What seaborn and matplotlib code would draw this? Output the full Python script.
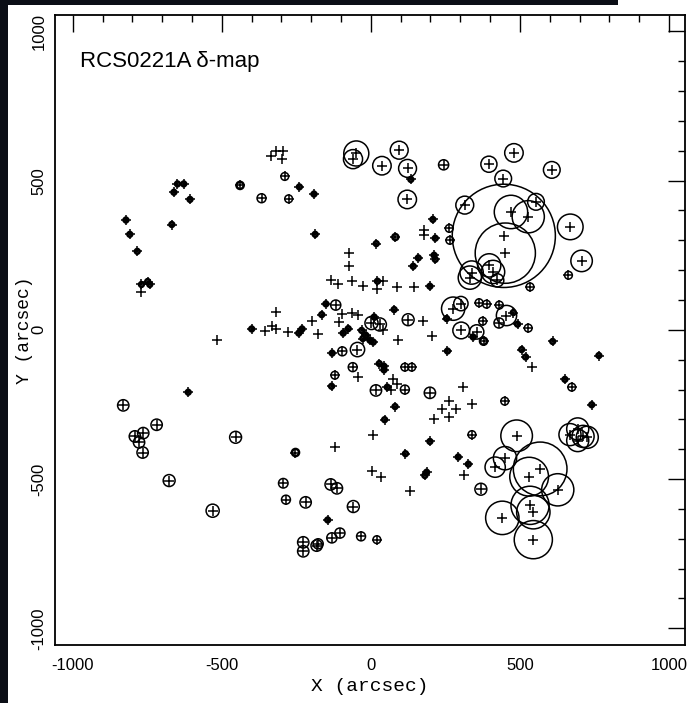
import matplotlib
matplotlib.use("Agg")
import matplotlib.pyplot as plt
import seaborn as sns
import pandas as pd
from matplotlib.patches import Circle, Rectangle
from matplotlib.ticker import MultipleLocator

# Source positions (arcsec) and delta-statistic circle radii (arcsec, 0 = no circle)
x_arcsec = [
    -336, -319, -294, -298, -289, -276, -367, -439, -240,
    -661, -649, -628, -607, -668, -822, -809, -784, -770, -749, -742, -772,
    -400, -356, -333, -319, -319, -279, -242, -518, -191, -187,
    -49, -60, 95, 37, 123, 134, 244, 122, 480, 396, 444, 607,
    446, 451, 470, 528, 554, 315, 669, 707, 663, 534, 397, 410, 338, 332, 424,
    263, 265, 208, 216, 178, 178, 82, 18, 159, 212, 216, 142,
    -73, -74, -135, -110, -63, -26, 22, 41, 21, 88, 145, 198,
    -118, -151, -165, -197, -96, -64, -43, -106, -231, -177, -93, -76,
    2, 30, -31, -27, -17, -3, 8, 11, -45, -96, -130,
    40, 78, 125, 176, 90, 206, 257, 302, 276, 254,
    363, 388, 431, 455, 430, 478, 492, 528, 375, 303, 355, 343, 378, 610, 506, 519, 765,
    -61, 28, 44, 44, 114, 137, -121, -132, -43, 17, 55, 73, 88, 69, 114, 198, 81, 46,
    308, 262, 237, 284, 340, 212, 262, 540, 651, 674, 449, 741, 339, 198, 8, -121, 116, 293, 327, 312, 181, 187, 3, 33, 131,
    489, 450, 417, 568, 531, 627, 534, 545, 441, 545, 369, 668, 694, 712, 694, 726,
    -135, -114, -219, -59, -145, -104, -131, -33, 20, -227, -182, -227, -177,
    -831, -613, -719, -792, -764, -778, -766, -454, -677, -531, -253, -294, -285,
]
y_arcsec = [
    583, 600, 599, 572, 514, 439, 441, 484, 479,
    461, 489, 489, 437, 353, 368, 320, 263, 152, 162, 152, 126,
    3, -3, 14, 59, 2, -8, -11, -35, 455, 320,
    591, 572, 602, 550, 541, 504, 553, 437, 593, 555, 507, 536,
    315, 257, 395, 379, 429, 418, 345, 231, 183, 144, 216, 194, 192, 175, 166,
    340, 300, 370, 307, 334, 317, 311, 289, 241, 250, 236, 213,
    256, 213, 168, 155, 164, 146, 163, 163, 138, 142, 144, 146,
    83, 87, 51, 31, 52, 56, 51, 26, 3, -15, -11, 4,
    23, 18, -2, -29, -18, -35, -41, 43, -66, -72, -78,
    -2, 68, 34, 30, -35, -22, -71, 88, 71, 38,
    91, 86, 83, 48, 23, 58, 19, 6, 29, -2, -7, -24, -38, -39, -66, -91, -86,
    -125, -113, -122, -134, -125, -125, -152, -189, -158, -203, -192, -164, -183, -203, -200, -211, -257, -301,
    -192, -239, -264, -264, -248, -300, -293, -125, -166, -192, -239, -251, -351, -374, -354, -393, -415, -426, -450, -488, -488, -477, -472, -494, -539,
    -355, -430, -460, -466, -492, -536, -588, -611, -630, -703, -534, -351, -332, -357, -371, -360,
    -518, -531, -578, -592, -637, -681, -697, -692, -703, -712, -723, -742, -717,
    -253, -209, -318, -357, -346, -377, -411, -360, -505, -606, -411, -514, -569,
]
delta_radius = [
    0, 0, 0, 0, 13, 13, 15, 12, 8,
    8, 8, 8, 8, 8, 8, 8, 8, 8, 8, 8, 0,
    8, 0, 0, 0, 0, 0, 8, 0, 8, 8,
    42, 32, 30, 31, 30, 8, 17, 31, 31, 27, 28, 28,
    173, 101, 56, 54, 28, 30, 43, 36, 13, 13, 39, 39, 39, 39, 22,
    13, 13, 8, 8, 0, 0, 10, 8, 8, 8, 8, 8,
    0, 0, 0, 0, 0, 0, 8, 0, 0, 0, 0, 8,
    17, 8, 8, 0, 0, 0, 0, 0, 8, 0, 8, 8,
    22, 22, 8, 8, 8, 8, 8, 8, 24, 15, 8,
    0, 8, 20, 0, 0, 0, 8, 24, 39, 8,
    13, 13, 13, 34, 17, 8, 8, 13, 13, 28, 24, 8, 12, 8, 8, 8, 8,
    15, 8, 8, 8, 13, 13, 13, 8, 0, 19, 8, 0, 0, 0, 15, 19, 8, 8,
    0, 0, 0, 0, 0, 0, 0, 0, 8, 13, 13, 8, 13, 8, 0, 0, 8, 8, 8, 0, 8, 8, 0, 0, 0,
    53, 39, 34, 90, 65, 54, 64, 56, 56, 64, 20, 37, 37, 37, 37, 37,
    19, 19, 19, 20, 8, 17, 17, 15, 13, 19, 19, 19, 17,
    19, 8, 19, 19, 19, 19, 19, 20, 20, 22, 12, 16, 15,
]
x_ticks = [-1000, -500, 0, 500, 1000]
y_ticks = [-1000, -500, 0, 500, 1000]
title_text = "RCS0221A δ-map"
x_label = "X (arcsec)"
y_label = "Y (arcsec)"

assert len(x_arcsec) == len(y_arcsec) == len(delta_radius)

sns.set_theme(style="white")
plt.rcParams["font.family"] = ["Liberation Sans", "DejaVu Sans"]
plt.rcParams["axes.unicode_minus"] = False

df = pd.DataFrame({"x": x_arcsec, "y": y_arcsec, "r": delta_radius})

W, H = 690, 703
fig = plt.figure(figsize=(W / 100, H / 100), dpi=100, facecolor="white")
# dark slide background showing at the top and left edges
fig.add_artist(Rectangle((0, 1 - 5 / H), 618 / W, 5 / H, transform=fig.transFigure,
                         facecolor="#0b0e16", edgecolor="none", zorder=0))
fig.add_artist(Rectangle((0, 0), 8 / W, 1, transform=fig.transFigure,
                         facecolor="#0b0e16", edgecolor="none", zorder=0))

ax = fig.add_axes([55 / W, 58 / H, 630 / W, 630 / H])
ax.set_facecolor("white")

for _, row in df[df["r"] > 0].iterrows():
    lw = 1.1 if row["r"] > 12 else 1.8
    ax.add_patch(Circle((row["x"], row["y"]), row["r"], fill=False,
                        edgecolor="black", linewidth=lw, zorder=2))

sns.scatterplot(data=df, x="x", y="y", marker="+", s=45, color="black",
                linewidth=1.1, ax=ax, legend=False, zorder=3)

ax.set_xlim(-1060, 1054)
ax.set_ylim(-1056, 1055)
ax.set_aspect("auto")

ax.xaxis.set_major_locator(MultipleLocator(500))
ax.xaxis.set_minor_locator(MultipleLocator(100))
ax.yaxis.set_major_locator(MultipleLocator(500))
ax.yaxis.set_minor_locator(MultipleLocator(100))
ax.set_xticks(x_ticks)
ax.set_yticks(y_ticks)
ax.tick_params(which="both", direction="in", top=True, right=True,
               color="black", width=1.0)
ax.tick_params(which="major", length=12, labelsize=12, labelcolor="black")
ax.tick_params(which="minor", length=5)
ax.tick_params(axis="x", pad=9)
ax.tick_params(axis="y", pad=6, labelrotation=90)
for lbl in ax.get_yticklabels():
    lbl.set_va("center")

for s in ax.spines.values():
    s.set_color("black")
    s.set_linewidth(1.3)

mono = ["Liberation Mono", "DejaVu Sans Mono"]
ax.set_xlabel(x_label, fontsize=14, family=mono, color="black", labelpad=4)
ax.set_ylabel(y_label, fontsize=13, family=mono, color="black", labelpad=-1)

ax.text(-975, 900, title_text, fontsize=16, color="black", va="center", ha="left",
        family=["Liberation Sans", "DejaVu Sans"])

fig.savefig("out.png", dpi=100, facecolor=fig.get_facecolor())
